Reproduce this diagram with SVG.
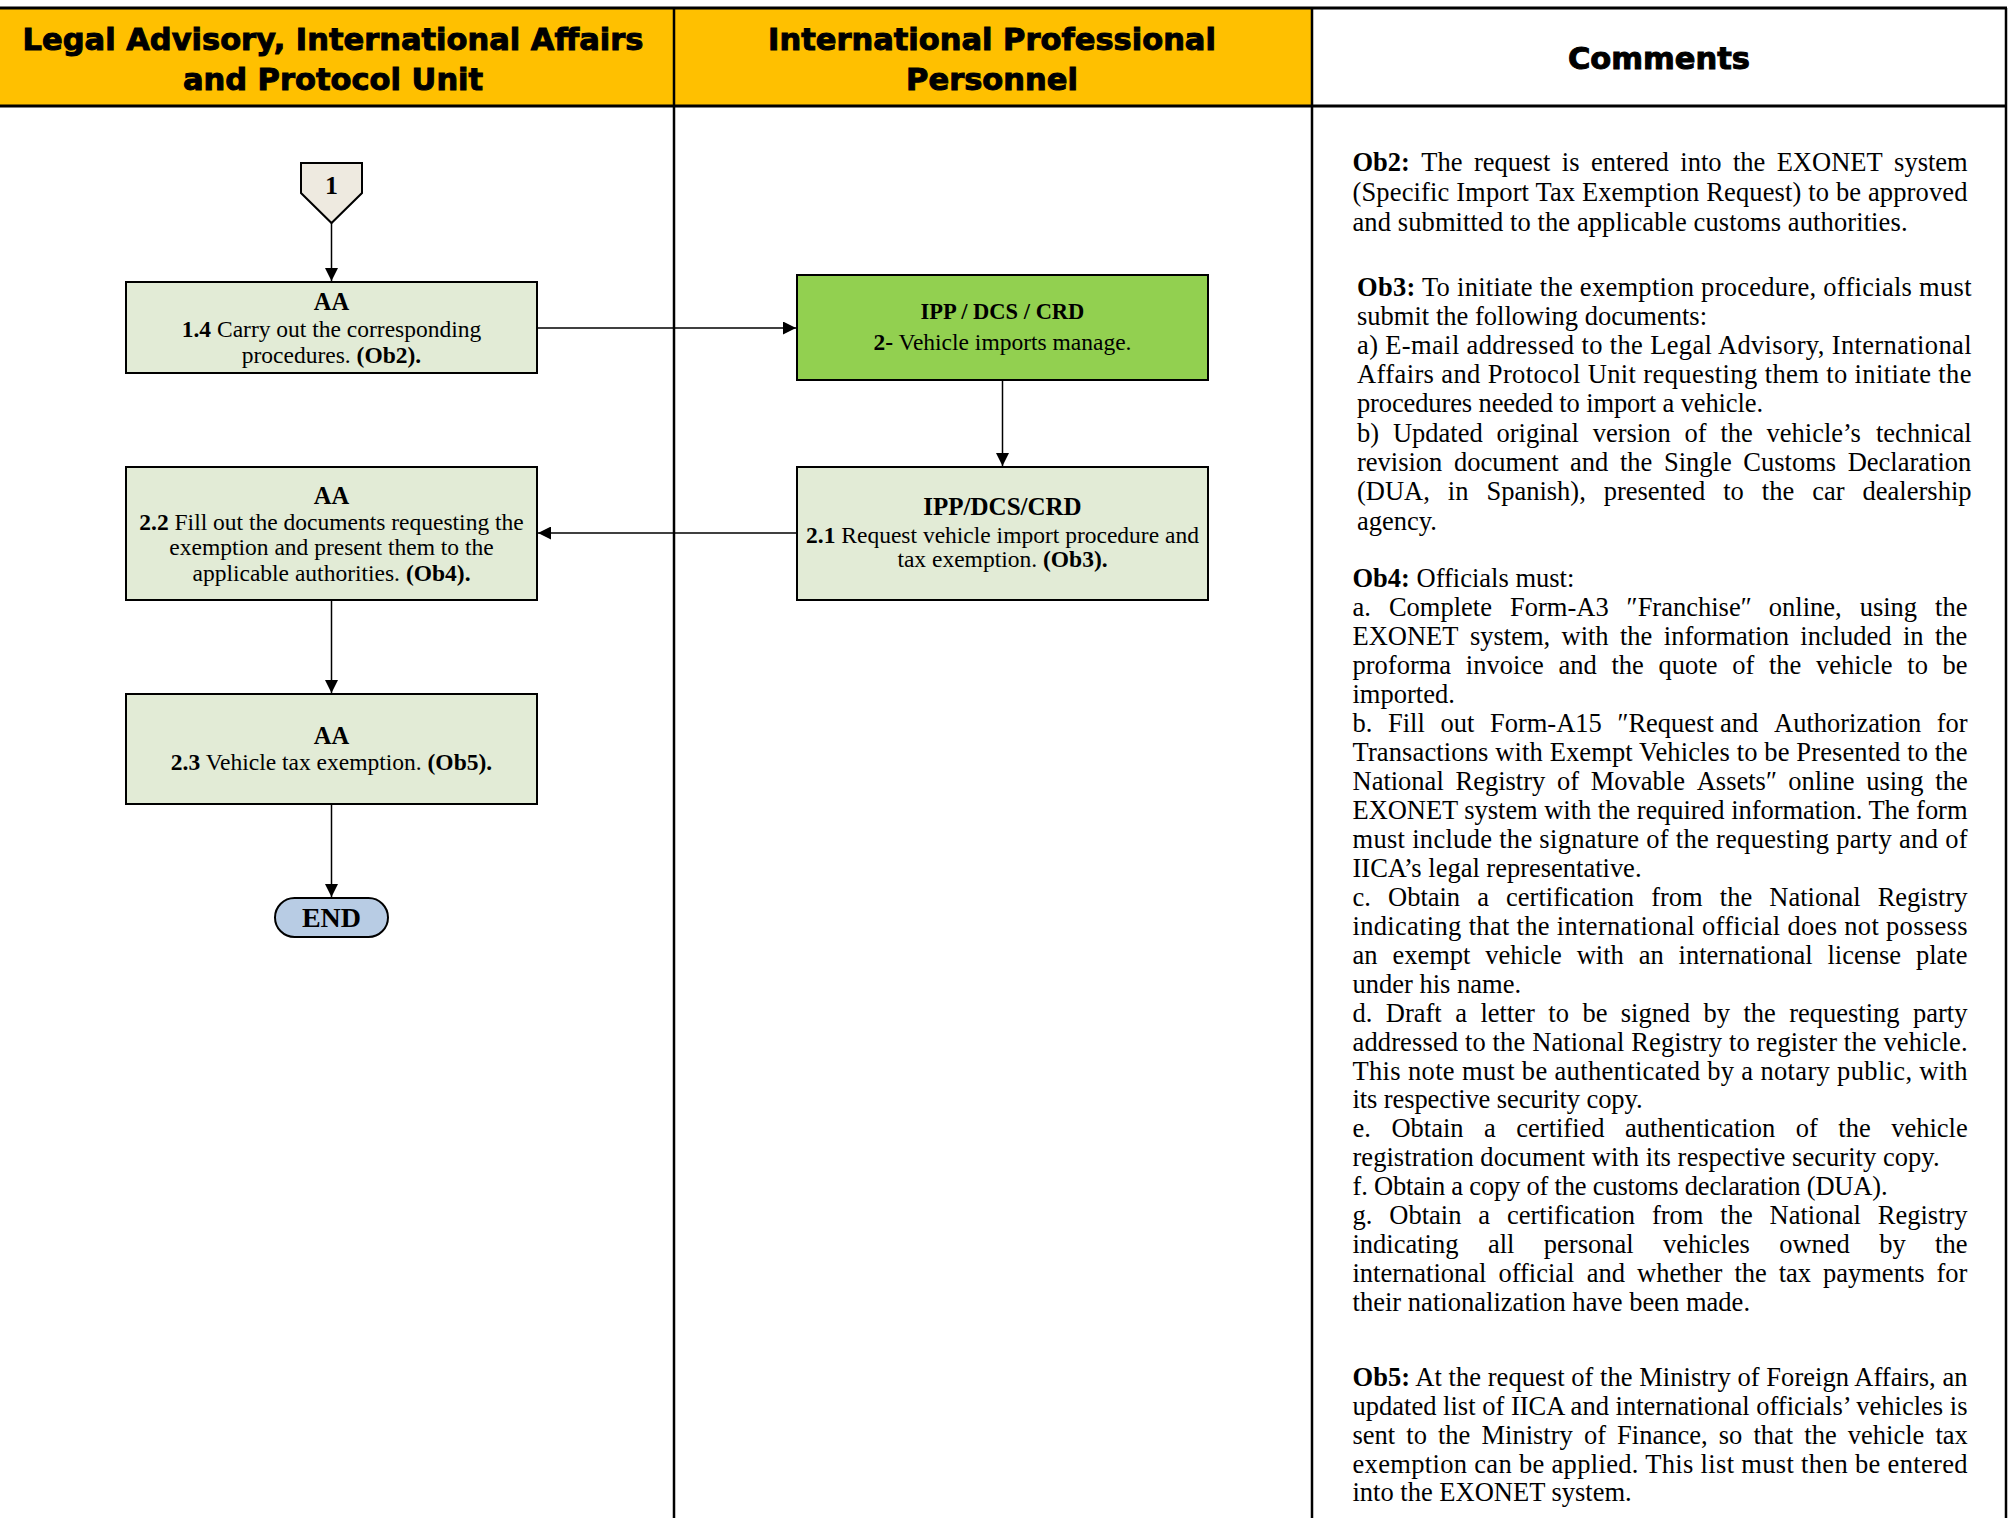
<svg xmlns="http://www.w3.org/2000/svg" width="2009" height="1518" viewBox="0 0 2009 1518">
<style>
.h{font-family:"DejaVu Sans",sans-serif;font-weight:bold;font-size:30.5px;fill:#000;stroke:#000;stroke-width:1;text-anchor:middle}
.t{font-family:"Liberation Serif",serif;font-size:23.5px;fill:#000;text-anchor:middle}
.b{font-weight:bold}
.c{font-family:"Liberation Serif",serif;font-size:26.5px;fill:#000}
.box{stroke:#000;stroke-width:2}
.lt{fill:#E2EBD6}
.ln{stroke:#000;fill:none}
.cn{stroke:#000;stroke-width:1.5;fill:none;marker-end:url(#ah)}
</style>
<defs>
<marker id="ah" markerUnits="userSpaceOnUse" markerWidth="13" markerHeight="13" refX="13" refY="6.5" orient="auto"><path d="M0,0 L13,6.5 L0,13 z" fill="#000"/></marker>
</defs>
<rect x="0" y="0" width="2009" height="1518" fill="#fff"/>
<g id="lanes">
<rect x="0" y="8" width="1312" height="98" fill="#FFC000"/>
<line class="ln" x1="0" y1="8" x2="2007" y2="8" stroke-width="3"/>
<line class="ln" x1="0" y1="106" x2="2007" y2="106" stroke-width="3"/>
<line class="ln" x1="674" y1="8" x2="674" y2="1518" stroke-width="2.5"/>
<line class="ln" x1="1312" y1="8" x2="1312" y2="1518" stroke-width="2.5"/>
<line class="ln" x1="2006" y1="8" x2="2006" y2="1518" stroke-width="2.5"/>
<text class="h" x="333" y="50">Legal Advisory, International Affairs</text>
<text class="h" x="333" y="89.5">and Protocol Unit</text>
<text class="h" x="992" y="50">International Professional</text>
<text class="h" x="992" y="89.5">Personnel</text>
<text class="h" x="1659" y="69">Comments</text>
</g>
<g id="connectors">
<line class="cn" x1="331.5" y1="223" x2="331.5" y2="281"/>
<line class="cn" x1="538" y1="328" x2="796" y2="328"/>
<line class="cn" x1="1002.5" y1="381" x2="1002.5" y2="466"/>
<line class="cn" x1="796" y1="533" x2="538" y2="533"/>
<line class="cn" x1="331.5" y1="601" x2="331.5" y2="693"/>
<line class="cn" x1="331.5" y1="805" x2="331.5" y2="897"/>
</g>
<g id="n-start">
<polygon class="box" points="301,163 362,163 362,193 331.5,223 301,193" fill="#EEEAE0"/>
<text class="t b" x="331.5" y="194" style="font-size:26px">1</text>
</g>
<g id="n-1-4">
<rect class="box lt" x="126" y="282" width="411" height="91"/>
<text class="t b" x="331.5" y="310" style="font-size:24.5px">AA</text>
<text class="t" x="331.5" y="336.5"><tspan class="b">1.4</tspan> Carry out the corresponding</text>
<text class="t" x="331.5" y="363">procedures. <tspan class="b">(Ob2).</tspan></text>
</g>
<g id="n-2">
<rect class="box" x="797" y="275" width="411" height="105" fill="#92D050"/>
<text class="t b" x="1002.5" y="319" style="font-size:22.5px">IPP / DCS / CRD</text>
<text class="t" x="1002.5" y="350"><tspan class="b">2-</tspan> Vehicle imports manage.</text>
</g>
<g id="n-2-1">
<rect class="box lt" x="797" y="467" width="411" height="133"/>
<text class="t b" x="1002.5" y="515" style="font-size:25px">IPP/DCS/CRD</text>
<text class="t" x="1002.5" y="542.5"><tspan class="b">2.1</tspan> Request vehicle import procedure and</text>
<text class="t" x="1002.5" y="567">tax exemption. <tspan class="b">(Ob3).</tspan></text>
</g>
<g id="n-2-2">
<rect class="box lt" x="126" y="467" width="411" height="133"/>
<text class="t b" x="331.5" y="503.5" style="font-size:24.5px">AA</text>
<text class="t" x="331.5" y="529.5"><tspan class="b">2.2</tspan> Fill out the documents requesting the</text>
<text class="t" x="331.5" y="555">exemption and present them to the</text>
<text class="t" x="331.5" y="580.5">applicable authorities. <tspan class="b">(Ob4).</tspan></text>
</g>
<g id="n-2-3">
<rect class="box lt" x="126" y="694" width="411" height="110"/>
<text class="t b" x="331.5" y="743.5" style="font-size:24.5px">AA</text>
<text class="t" x="331.5" y="770"><tspan class="b">2.3</tspan> Vehicle tax exemption. <tspan class="b">(Ob5).</tspan></text>
</g>
<g id="n-end">
<rect class="box" x="275" y="898" width="113" height="39" rx="19.5" fill="#B8CCE4"/>
<text class="t b" x="331.5" y="927" style="font-size:28px">END</text>
</g>
<g id="comments" class="c">
<text y="170.5"><tspan x="1352.5" class="b">Ob2:</tspan> <tspan x="1421.3">The</tspan> <tspan x="1473.9">request</tspan> <tspan x="1561.8">is</tspan> <tspan x="1590.9">entered</tspan> <tspan x="1680.3">into</tspan> <tspan x="1732.9">the</tspan> <tspan x="1776.7">EXONET</tspan> <tspan x="1894.1">system</tspan></text>
<text x="1352.5" y="200.5" textLength="615" lengthAdjust="spacing">(Specific Import Tax Exemption Request) to be approved</text>
<text x="1352.5" y="230.5" textLength="555" lengthAdjust="spacing">and submitted to the applicable customs authorities.</text>

<text x="1357" y="295.5" textLength="614.5" lengthAdjust="spacing"><tspan class="b">Ob3:</tspan> To initiate the exemption procedure, officials must</text>
<text x="1357" y="324.7" textLength="350" lengthAdjust="spacing">submit the following documents:</text>
<text x="1357" y="353.9" textLength="614.5" lengthAdjust="spacing">a) E-mail addressed to the Legal Advisory, International</text>
<text x="1357" y="383.1" textLength="614.5" lengthAdjust="spacing">Affairs and Protocol Unit requesting them to initiate the</text>
<text x="1357" y="412.3" textLength="406" lengthAdjust="spacing">procedures needed to import a vehicle.</text>
<text y="441.5"><tspan x="1357">b)</tspan> <tspan x="1392.9">Updated</tspan> <tspan x="1496.5">original</tspan> <tspan x="1592.7">version</tspan> <tspan x="1684.5">of</tspan> <tspan x="1720.4">the</tspan> <tspan x="1766.6">vehicle’s</tspan> <tspan x="1876">technical</tspan></text>
<text y="470.7"><tspan x="1357">revision</tspan> <tspan x="1454">document</tspan> <tspan x="1570.1">and</tspan> <tspan x="1620">the</tspan> <tspan x="1664">Single</tspan> <tspan x="1743.3">Customs</tspan> <tspan x="1847.7">Declaration</tspan></text>
<text y="499.9"><tspan x="1357">(DUA,</tspan> <tspan x="1447.8">in</tspan> <tspan x="1486.4">Spanish),</tspan> <tspan x="1603.7">presented</tspan> <tspan x="1723.2">to</tspan> <tspan x="1761.8">the</tspan> <tspan x="1812.2">car</tspan> <tspan x="1862.6">dealership</tspan></text>
<text x="1357" y="529.5">agency.</text>

<text x="1352.5" y="587"><tspan class="b">Ob4:</tspan> Officials must:</text>
<text y="616"><tspan x="1352.5">a.</tspan> <tspan x="1388.9">Complete</tspan> <tspan x="1510">Form-A3</tspan> <tspan x="1626.6">″Franchise″</tspan> <tspan x="1768.8">online,</tspan> <tspan x="1859.7">using</tspan> <tspan x="1935.1">the</tspan></text>
<text y="644.9"><tspan x="1352.5">EXONET</tspan> <tspan x="1469.9">system,</tspan> <tspan x="1561.5">with</tspan> <tspan x="1620">the</tspan> <tspan x="1663.8">information</tspan> <tspan x="1800.3">included</tspan> <tspan x="1903">in</tspan> <tspan x="1935">the</tspan></text>
<text y="673.9"><tspan x="1352.5">proforma</tspan> <tspan x="1465.8">invoice</tspan> <tspan x="1558.5">and</tspan> <tspan x="1611.5">the</tspan> <tspan x="1658.6">quote</tspan> <tspan x="1732.2">of</tspan> <tspan x="1769">the</tspan> <tspan x="1816.1">vehicle</tspan> <tspan x="1907.3">to</tspan> <tspan x="1942.6">be</tspan></text>
<text x="1352.5" y="702.9">imported.</text>
<text y="731.9"><tspan x="1352.5">b.</tspan> <tspan x="1388">Fill</tspan> <tspan x="1440.4">out</tspan> <tspan x="1489.9">Form-A15</tspan> <tspan x="1617.4">″Request</tspan> <tspan x="1720.1">and</tspan> <tspan x="1774">Authorization</tspan> <tspan x="1936.8">for</tspan></text>
<text x="1352.5" y="760.8" textLength="615" lengthAdjust="spacing">Transactions with Exempt Vehicles to be Presented to the</text>
<text y="789.8"><tspan x="1352.5">National</tspan> <tspan x="1455.5">Registry</tspan> <tspan x="1557">of</tspan> <tspan x="1590.8">Movable</tspan> <tspan x="1696.7">Assets″</tspan> <tspan x="1788.2">online</tspan> <tspan x="1866.2">using</tspan> <tspan x="1935.3">the</tspan></text>
<text x="1352.5" y="818.8" textLength="615" lengthAdjust="spacing">EXONET system with the required information. The form</text>
<text x="1352.5" y="847.7" textLength="615" lengthAdjust="spacing">must include the signature of the requesting party and of</text>
<text x="1352.5" y="876.7" textLength="289" lengthAdjust="spacing">IICA’s legal representative.</text>
<text y="905.7"><tspan x="1352.5">c.</tspan> <tspan x="1388">Obtain</tspan> <tspan x="1477.2">a</tspan> <tspan x="1506.1">certification</tspan> <tspan x="1651.2">from</tspan> <tspan x="1719.8">the</tspan> <tspan x="1769.3">National</tspan> <tspan x="1877.7">Registry</tspan></text>
<text x="1352.5" y="934.6" textLength="615" lengthAdjust="spacing">indicating that the international official does not possess</text>
<text y="963.6"><tspan x="1352.5">an</tspan> <tspan x="1392.4">exempt</tspan> <tspan x="1485.3">vehicle</tspan> <tspan x="1576.7">with</tspan> <tspan x="1638.7">an</tspan> <tspan x="1678.6">international</tspan> <tspan x="1827.5">license</tspan> <tspan x="1916">plate</tspan></text>
<text x="1352.5" y="992.6">under his name.</text>
<text y="1021.5"><tspan x="1352.5">d.</tspan> <tspan x="1385.8">Draft</tspan> <tspan x="1455.2">a</tspan> <tspan x="1480.4">letter</tspan> <tspan x="1548.3">to</tspan> <tspan x="1582.4">be</tspan> <tspan x="1620.8">signed</tspan> <tspan x="1703.4">by</tspan> <tspan x="1743.4">the</tspan> <tspan x="1789.2">requesting</tspan> <tspan x="1913">party</tspan></text>
<text x="1352.5" y="1050.5" textLength="615" lengthAdjust="spacing">addressed to the National Registry to register the vehicle.</text>
<text x="1352.5" y="1079.5" textLength="615" lengthAdjust="spacing">This note must be authenticated by a notary public, with</text>
<text x="1352.5" y="1108.4" textLength="290" lengthAdjust="spacing">its respective security copy.</text>
<text y="1137.4"><tspan x="1352.5">e.</tspan> <tspan x="1391.4">Obtain</tspan> <tspan x="1484">a</tspan> <tspan x="1516.3">certified</tspan> <tspan x="1625.1">authentication</tspan> <tspan x="1795.7">of</tspan> <tspan x="1838.3">the</tspan> <tspan x="1891.2">vehicle</tspan></text>
<text x="1352.5" y="1166.4" textLength="587" lengthAdjust="spacing">registration document with its respective security copy.</text>
<text x="1352.5" y="1195.3" textLength="535" lengthAdjust="spacing">f. Obtain a copy of the customs declaration (DUA).</text>
<text y="1224.3"><tspan x="1352.5">g.</tspan> <tspan x="1389.3">Obtain</tspan> <tspan x="1478.3">a</tspan> <tspan x="1507">certification</tspan> <tspan x="1651.9">from</tspan> <tspan x="1720.3">the</tspan> <tspan x="1769.6">National</tspan> <tspan x="1877.8">Registry</tspan></text>
<text y="1253.3"><tspan x="1352.5">indicating</tspan> <tspan x="1487.9">all</tspan> <tspan x="1543.8">personal</tspan> <tspan x="1663">vehicles</tspan> <tspan x="1779.2">owned</tspan> <tspan x="1879.2">by</tspan> <tspan x="1935.1">the</tspan></text>
<text y="1282.2"><tspan x="1352.5">international</tspan> <tspan x="1498.4">official</tspan> <tspan x="1586.8">and</tspan> <tspan x="1637">whether</tspan> <tspan x="1734.4">the</tspan> <tspan x="1778.7">tax</tspan> <tspan x="1823">payments</tspan> <tspan x="1936.5">for</tspan></text>
<text x="1352.5" y="1311" textLength="397.5" lengthAdjust="spacing">their nationalization have been made.</text>

<text x="1352.5" y="1386" textLength="615" lengthAdjust="spacing"><tspan class="b">Ob5:</tspan> At the request of the Ministry of Foreign Affairs, an</text>
<text x="1352.5" y="1415" textLength="615" lengthAdjust="spacing">updated list of IICA and international officials’ vehicles is</text>
<text y="1444"><tspan x="1352.5">sent</tspan> <tspan x="1406.3">to</tspan> <tspan x="1438">the</tspan> <tspan x="1481.5">Ministry</tspan> <tspan x="1583.9">of</tspan> <tspan x="1617.1">Finance,</tspan> <tspan x="1718.7">so</tspan> <tspan x="1753.4">that</tspan> <tspan x="1804.3">the</tspan> <tspan x="1847.8">vehicle</tspan> <tspan x="1935.4">tax</tspan></text>
<text x="1352.5" y="1473" textLength="615" lengthAdjust="spacing">exemption can be applied. This list must then be entered</text>
<text x="1352.5" y="1501">into the EXONET system.</text>
</g>
</svg>
